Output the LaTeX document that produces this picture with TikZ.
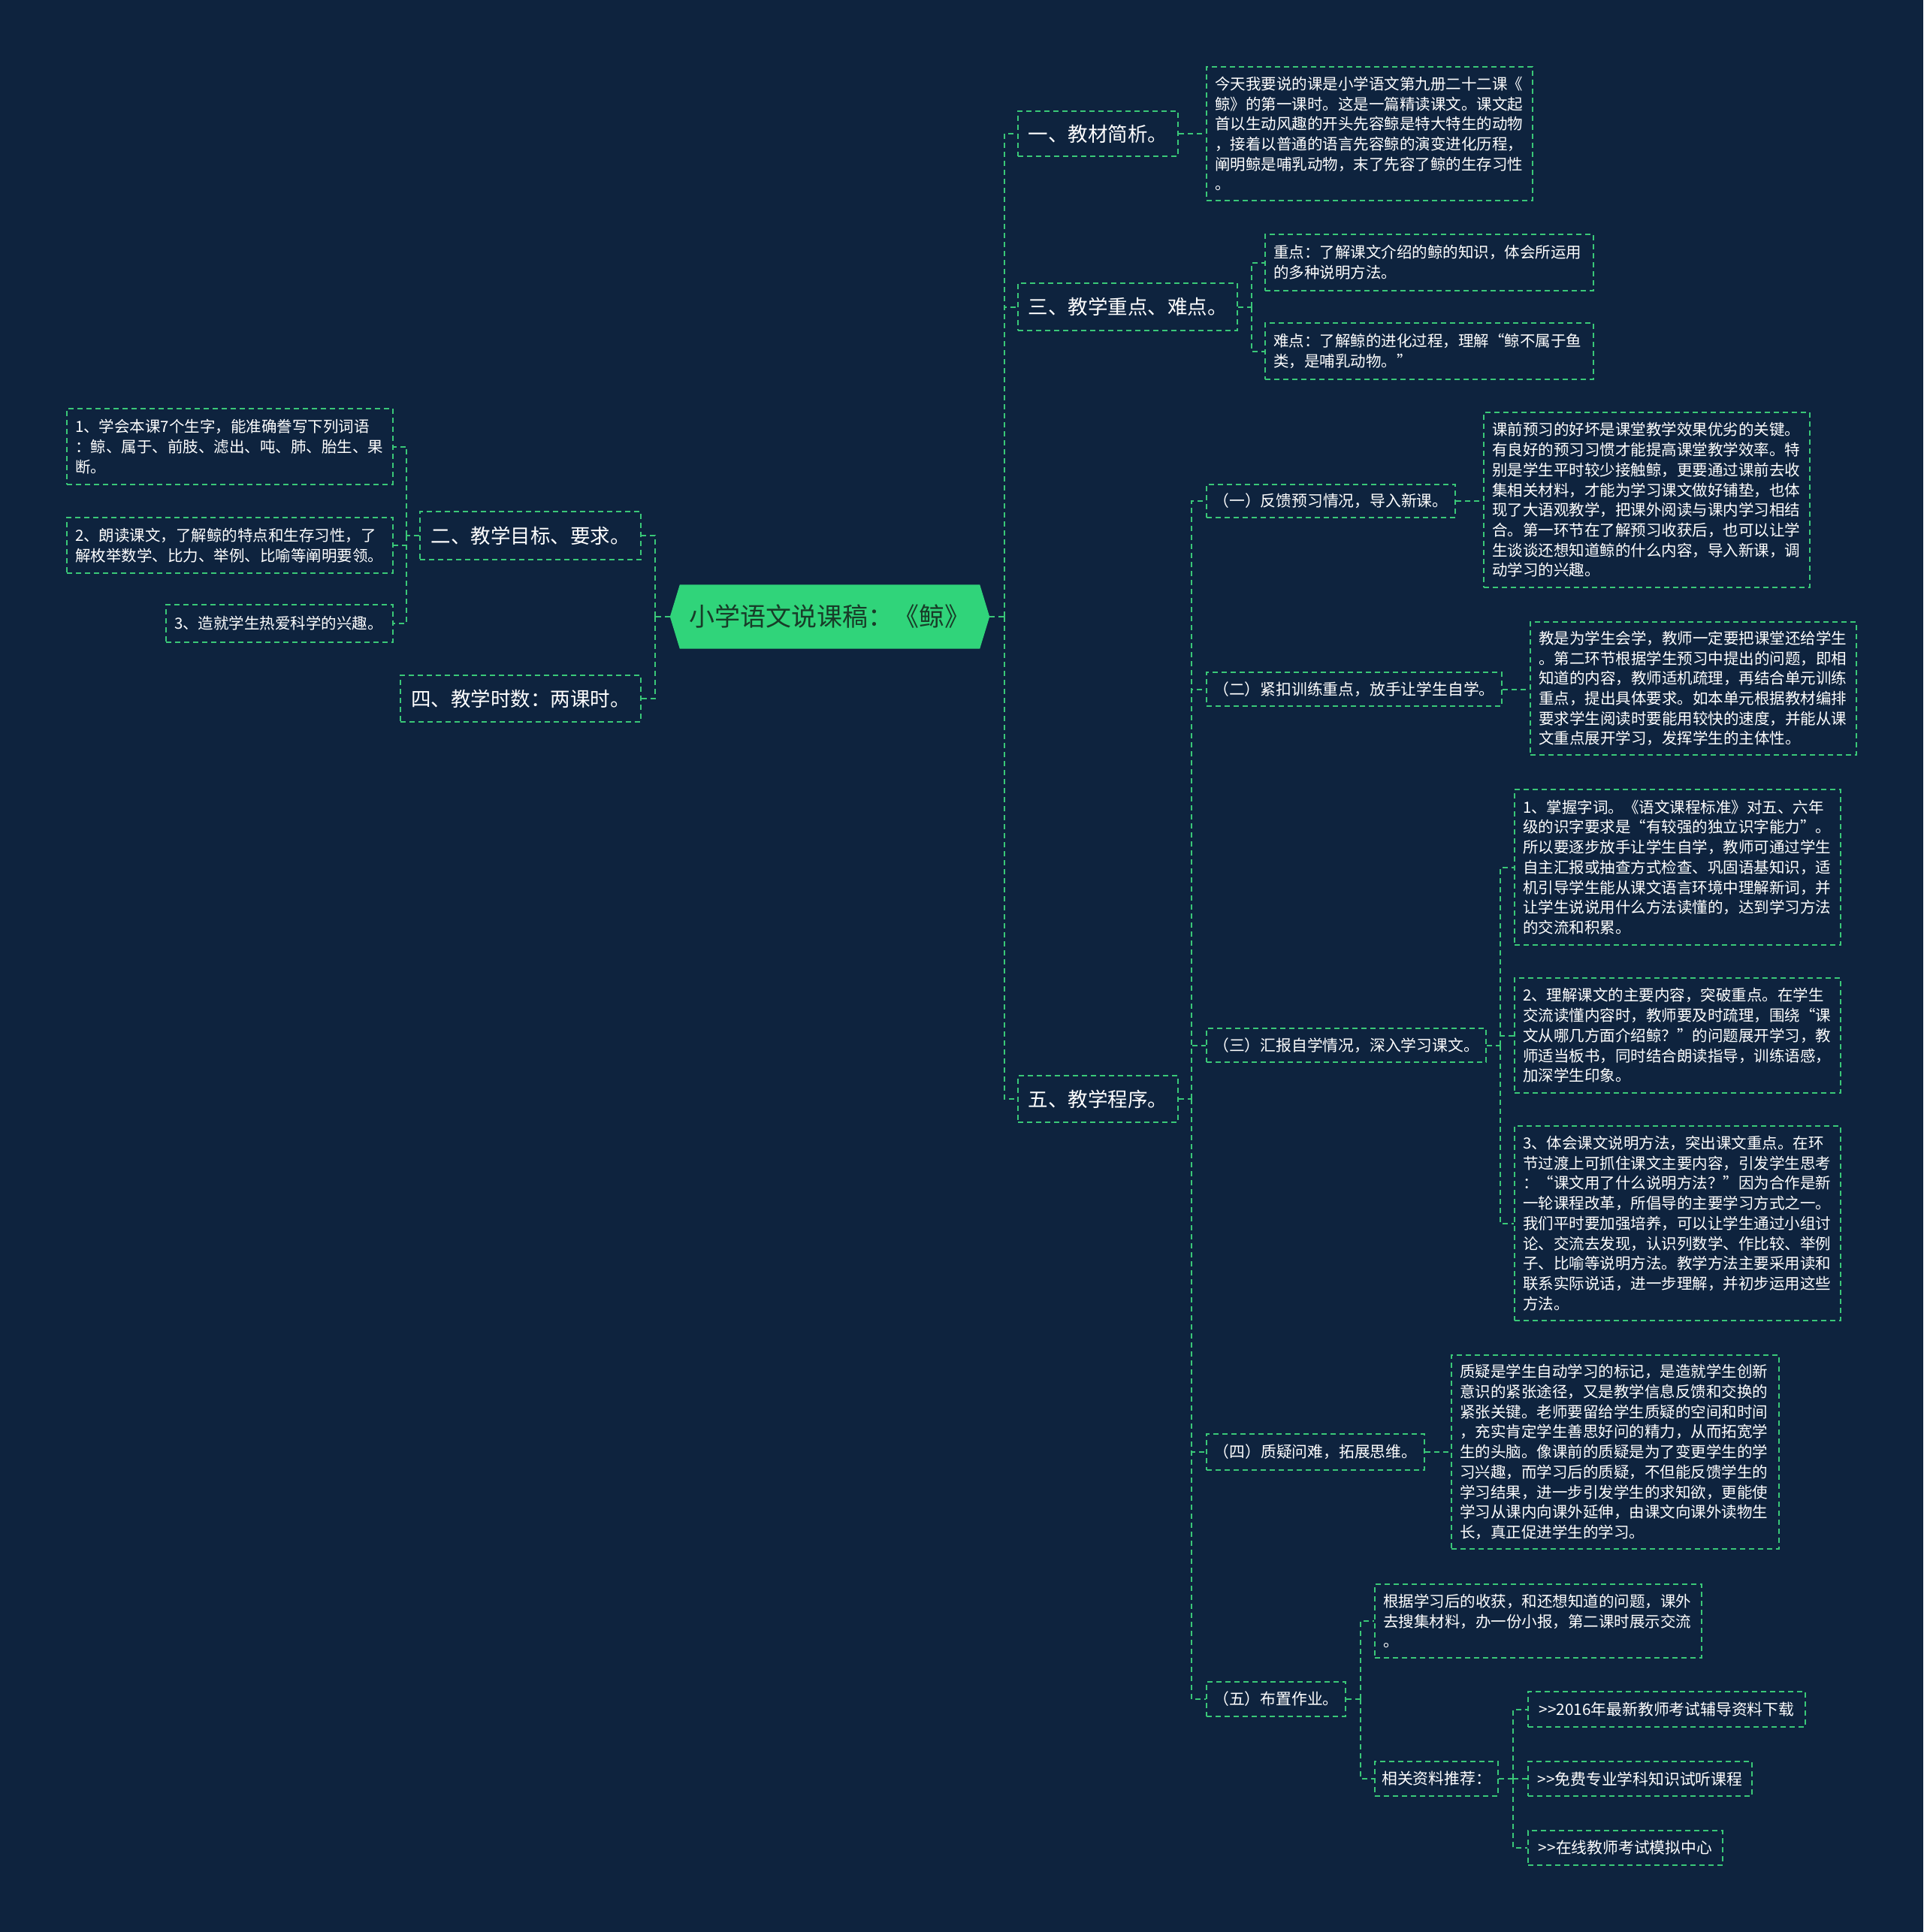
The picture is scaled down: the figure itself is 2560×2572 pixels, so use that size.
\documentclass[tikz,border=0pt]{standalone}
\usepackage{fontspec}
\setmainfont{Noto Sans CJK SC}
\definecolor{bgc}{RGB}{14,35,62}
\definecolor{lineg}{RGB}{58,200,120}
\definecolor{rootf}{RGB}{48,212,122}
\definecolor{roott}{RGB}{24,60,40}
\pgfdeclarelayer{background}
\pgfsetlayers{background,main}
\tikzset{
  boxbase/.style={draw=lineg, line width=2pt, dash pattern=on 7pt off 5pt, text=white, inner sep=0pt},
  lone/.style={boxbase, font=\fontsize{26.5}{31}\selectfont},
  ltwo/.style={boxbase, font=\fontsize{20.8}{26}\selectfont},
  leafbox/.style={boxbase, font=\fontsize{20.5}{26.7}\selectfont, align=left, inner xsep=11pt, inner ysep=0pt},
  conn/.style={draw=lineg, line width=2pt, dash pattern=on 7pt off 5pt},
}
\begin{document}
\begin{tikzpicture}[x=1pt,y=-1pt]
\useasboundingbox (0,0) rectangle (2560,2572);
% root
\node[inner sep=0pt, minimum width=425pt, minimum height=85pt, text=roott, font=\fontsize{34}{40}\selectfont] (root) at (1104.5,821) {小学语文说课稿：《鲸》};
\begin{pgfonlayer}{background}
\fill[bgc] (0,0) rectangle (2560,2572);
\fill[rootf] (root.west) -- ([xshift=13pt]root.north west) -- ([xshift=-13pt]root.north east) -- (root.east) -- ([xshift=-13pt]root.south east) -- ([xshift=13pt]root.south west) -- cycle;
\end{pgfonlayer}
% level 1
\node[lone, minimum width=213pt, minimum height=60pt] (n1) at (1461.5,178) {一、教材简析。};
\node[lone, minimum width=292pt, minimum height=63pt] (n3) at (1501,408.5) {三、教学重点、难点。};
\node[lone, minimum width=213pt, minimum height=62pt] (n5) at (1461.5,1463) {五、教学程序。};
\node[lone, minimum width=294pt, minimum height=64pt] (n2) at (706,713) {二、教学目标、要求。};
\node[lone, minimum width=320pt, minimum height=62pt] (n4) at (693,930) {四、教学时数：两课时。};
% left leaves
\node[leafbox, text width=412pt, minimum height=101pt] (a1) at (306,594.5) {1、学会本课7个生字，能准确誊写下列词语\\：鲸、属于、前肢、滤出、吨、肺、胎生、果\\断。};
\node[leafbox, text width=412pt, minimum height=74pt] (a2) at (306,726) {2、朗读课文，了解鲸的特点和生存习性，了\\解枚举数学、比力、举例、比喻等阐明要领。};
\node[leafbox, text width=280pt, minimum height=50pt] (a3) at (372,830) {3、造就学生热爱科学的兴趣。};
% right leaves
\node[leafbox, text width=412pt, minimum height=178pt] (b1) at (1823,178) {今天我要说的课是小学语文第九册二十二课《\\鲸》的第一课时。这是一篇精读课文。课文起\\首以生动风趣的开头先容鲸是特大特生的动物\\，接着以普通的语言先容鲸的演变进化历程，\\阐明鲸是哺乳动物，末了先容了鲸的生存习性\\。};
\node[leafbox, text width=415pt, minimum height=75pt] (c1) at (1902.5,349.5) {重点：了解课文介绍的鲸的知识，体会所运用\\的多种说明方法。};
\node[leafbox, text width=415pt, minimum height=75pt] (c2) at (1902.5,467.5) {难点：了解鲸的进化过程，理解“鲸不属于鱼\\类，是哺乳动物。”};
\node[ltwo, minimum width=331pt, minimum height=44pt] (p1) at (1771.5,667) {（一）反馈预习情况，导入新课。};
\node[leafbox, text width=412pt, minimum height=233pt] (q1) at (2192,665.5) {课前预习的好坏是课堂教学效果优劣的关键。\\有良好的预习习惯才能提高课堂教学效率。特\\别是学生平时较少接触鲸，更要通过课前去收\\集相关材料，才能为学习课文做好铺垫，也体\\现了大语观教学，把课外阅读与课内学习相结\\合。第一环节在了解预习收获后，也可以让学\\生谈谈还想知道鲸的什么内容，导入新课，调\\动学习的兴趣。};
\node[ltwo, minimum width=393pt, minimum height=45pt] (p2) at (1802.5,917.5) {（二）紧扣训练重点，放手让学生自学。};
\node[leafbox, text width=412pt, minimum height=177pt] (q2) at (2254,916.5) {教是为学生会学，教师一定要把课堂还给学生\\。第二环节根据学生预习中提出的问题，即相\\知道的内容，教师适机疏理，再结合单元训练\\重点，提出具体要求。如本单元根据教材编排\\要求学生阅读时要能用较快的速度，并能从课\\文重点展开学习，发挥学生的主体性。};
\node[ltwo, minimum width=372pt, minimum height=45pt] (p3) at (1792,1391.5) {（三）汇报自学情况，深入学习课文。};
\node[leafbox, text width=412pt, minimum height=207pt] (r1) at (2233,1154.5) {1、掌握字词。《语文课程标准》对五、六年\\级的识字要求是“有较强的独立识字能力”。\\所以要逐步放手让学生自学，教师可通过学生\\自主汇报或抽查方式检查、巩固语基知识，适\\机引导学生能从课文语言环境中理解新词，并\\让学生说说用什么方法读懂的，达到学习方法\\的交流和积累。};
\node[leafbox, text width=412pt, minimum height=153pt] (r2) at (2233,1378.5) {2、理解课文的主要内容，突破重点。在学生\\交流读懂内容时，教师要及时疏理，围绕“课\\文从哪几方面介绍鲸？”的问题展开学习，教\\师适当板书，同时结合朗读指导，训练语感，\\加深学生印象。};
\node[leafbox, text width=412pt, minimum height=259pt] (r3) at (2233,1628.5) {3、体会课文说明方法，突出课文重点。在环\\节过渡上可抓住课文主要内容，引发学生思考\\：“课文用了什么说明方法？”因为合作是新\\一轮课程改革，所倡导的主要学习方式之一。\\我们平时要加强培养，可以让学生通过小组讨\\论、交流去发现，认识列数学、作比较、举例\\子、比喻等说明方法。教学方法主要采用读和\\联系实际说话，进一步理解，并初步运用这些\\方法。};
\node[ltwo, minimum width=290pt, minimum height=48pt] (p4) at (1751,1933) {（四）质疑问难，拓展思维。};
\node[leafbox, text width=414pt, minimum height=258pt] (q4) at (2150,1933) {质疑是学生自动学习的标记，是造就学生创新\\意识的紧张途径，又是教学信息反馈和交换的\\紧张关键。老师要留给学生质疑的空间和时间\\，充实肯定学生善思好问的精力，从而拓宽学\\生的头脑。像课前的质疑是为了变更学生的学\\习兴趣，而学习后的质疑，不但能反馈学生的\\学习结果，进一步引发学生的求知欲，更能使\\学习从课内向课外延伸，由课文向课外读物生\\长，真正促进学生的学习。};
\node[ltwo, minimum width=185pt, minimum height=46pt] (p5) at (1698.5,2262) {（五）布置作业。};
\node[leafbox, text width=413pt, minimum height=98pt] (hw) at (2047.5,2158) {根据学习后的收获，和还想知道的问题，课外\\去搜集材料，办一份小报，第二课时展示交流\\。};
\node[ltwo, minimum width=164pt, minimum height=46pt] (rec) at (1912,2368) {相关资料推荐：};
\node[ltwo, minimum width=369pt, minimum height=47pt] (u1) at (2218.5,2275.5) {>{}>2016年最新教师考试辅导资料下载};
\node[ltwo, minimum width=298pt, minimum height=46pt] (u2) at (2183,2368) {>{}>免费专业学科知识试听课程};
\node[ltwo, minimum width=259pt, minimum height=46pt] (u3) at (2163.5,2460) {>{}>在线教师考试模拟中心};
% spines
\coordinate (kR) at (1337,821);
\coordinate (kL) at (872,821);
\coordinate (k2) at (541,713);
\coordinate (k3) at (1666,408.5);
\coordinate (k5) at (1586,1463);
\coordinate (kp3) at (1997,1391.5);
\coordinate (kp5) at (1811,2262);
\coordinate (krec) at (2014,2368);
% connectors
\draw[conn] (root.east) -- (kR);
\draw[conn] (kR) |- (n1.west);
\draw[conn] (kR) |- (n3.west);
\draw[conn] (kR) |- (n5.west);
\draw[conn] (root.west) -- (kL);
\draw[conn] (kL) |- (n2.east);
\draw[conn] (kL) |- (n4.east);
\draw[conn] (n2.west) -- (k2);
\draw[conn] (k2) |- (a1.east);
\draw[conn] (k2) |- (a2.east);
\draw[conn] (k2) |- (a3.east);
\draw[conn] (n1.east) -- (n1.east -| b1.west);
\draw[conn] (n3.east) -- (k3);
\draw[conn] (k3) |- (c1.west);
\draw[conn] (k3) |- (c2.west);
\draw[conn] (n5.east) -- (k5);
\draw[conn] (k5) |- (p1.west);
\draw[conn] (k5) |- (p2.west);
\draw[conn] (k5) |- (p3.west);
\draw[conn] (k5) |- (p4.west);
\draw[conn] (k5) |- (p5.west);
\draw[conn] (p1.east) -- (p1.east -| q1.west);
\draw[conn] (p2.east) -- (p2.east -| q2.west);
\draw[conn] (p3.east) -- (kp3);
\draw[conn] (kp3) |- (r1.west);
\draw[conn] (kp3) |- (r2.west);
\draw[conn] (kp3) |- (r3.west);
\draw[conn] (p4.east) -- (p4.east -| q4.west);
\draw[conn] (p5.east) -- (kp5);
\draw[conn] (kp5) |- (hw.west);
\draw[conn] (kp5) |- (rec.west);
\draw[conn] (rec.east) -- (krec);
\draw[conn] (krec) |- (u1.west);
\draw[conn] (krec) |- (u2.west);
\draw[conn] (krec) |- (u3.west);
\end{tikzpicture}
\end{document}
